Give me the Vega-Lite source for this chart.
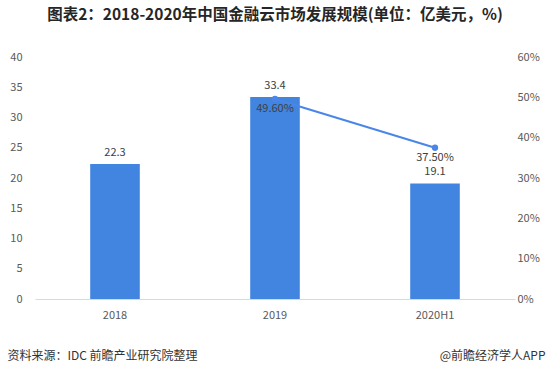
{
  "$schema": "https://vega.github.io/schema/vega-lite/v6.json",
  "width": 480,
  "height": 242,
  "autosize": {"type": "none"},
  "padding": {"left": 35, "top": 57, "right": 36, "bottom": 77},
  "background": "white",
  "config": {
    "view": {"stroke": null},
    "font": "Noto Sans CJK SC",
    "axis": {"labelFont": "Noto Sans CJK SC", "titleFont": "Noto Sans CJK SC"}
  },
  "title": {
    "text": "图表2：2018-2020年中国金融云市场发展规模(单位：亿美元，%)",
    "fontSize": 15.5,
    "fontWeight": "bold",
    "color": "#262626",
    "anchor": "middle",
    "frame": "group",
    "offset": 28
  },
  "data": {
    "values": [
      {"year": "2018", "value": 22.3, "rate": null},
      {"year": "2019", "value": 33.4, "rate": 0.496},
      {"year": "2020H1", "value": 19.1, "rate": 0.375}
    ]
  },
  "encoding": {
    "x": {
      "field": "year",
      "type": "nominal",
      "sort": null,
      "scale": {"paddingInner": 0.69, "paddingOuter": 0.345},
      "axis": {
        "labelAngle": 0,
        "labelColor": "#595959",
        "labelFontSize": 11,
        "labelPadding": 10,
        "ticks": false,
        "domainColor": "#D9D9D9",
        "domainWidth": 1,
        "title": "资料来源：IDC 前瞻产业研究院整理",
        "titleFontSize": 12,
        "titleFontWeight": "normal",
        "titleColor": "#333333",
        "titleAnchor": "start",
        "titleAlign": "left",
        "titleBaseline": "middle",
        "titleX": -28,
        "titleY": 56
      }
    }
  },
  "layer": [
    {
      "encoding": {
        "y": {
          "field": "value",
          "type": "quantitative",
          "scale": {"domain": [0, 40]},
          "axis": {
            "values": [0, 5, 10, 15, 20, 25, 30, 35, 40],
            "labelOverlap": false,
            "grid": false,
            "domain": false,
            "ticks": false,
            "labelColor": "#595959",
            "labelFontSize": 11,
            "labelPadding": 13,
            "title": "@前瞻经济学人APP",
            "titleAngle": 0,
            "titleAlign": "right",
            "titleBaseline": "middle",
            "titleFontSize": 12,
            "titleFontWeight": "normal",
            "titleColor": "#333333",
            "titleX": 510,
            "titleY": 298
          }
        }
      },
      "layer": [
        {"mark": {"type": "bar", "color": "#4285E0"}},
        {
          "mark": {"type": "text", "dy": -11, "fontSize": 11, "color": "#404040"},
          "encoding": {
            "text": {"field": "value", "type": "quantitative", "format": ".1f"}
          }
        }
      ]
    },
    {
      "transform": [{"filter": "isValid(datum.rate)"}],
      "encoding": {
        "y": {
          "field": "rate",
          "type": "quantitative",
          "scale": {"domain": [0, 0.6]},
          "axis": {
            "orient": "right",
            "values": [0, 0.1, 0.2, 0.3, 0.4, 0.5, 0.6],
            "labelOverlap": false,
            "format": ".0%",
            "grid": false,
            "domain": false,
            "ticks": false,
            "labelColor": "#595959",
            "labelFontSize": 11,
            "labelPadding": 2,
            "title": null
          }
        }
      },
      "layer": [
        {"mark": {"type": "line", "color": "#4A86E8", "strokeWidth": 2}},
        {"mark": {"type": "point", "filled": true, "color": "#4A86E8", "size": 40, "opacity": 1}},
        {
          "mark": {"type": "text", "dy": 10, "fontSize": 11, "color": "#404040"},
          "encoding": {
            "text": {"field": "rate", "type": "quantitative", "format": ".2%"}
          }
        }
      ]
    }
  ],
  "resolve": {"scale": {"y": "independent"}}
}
